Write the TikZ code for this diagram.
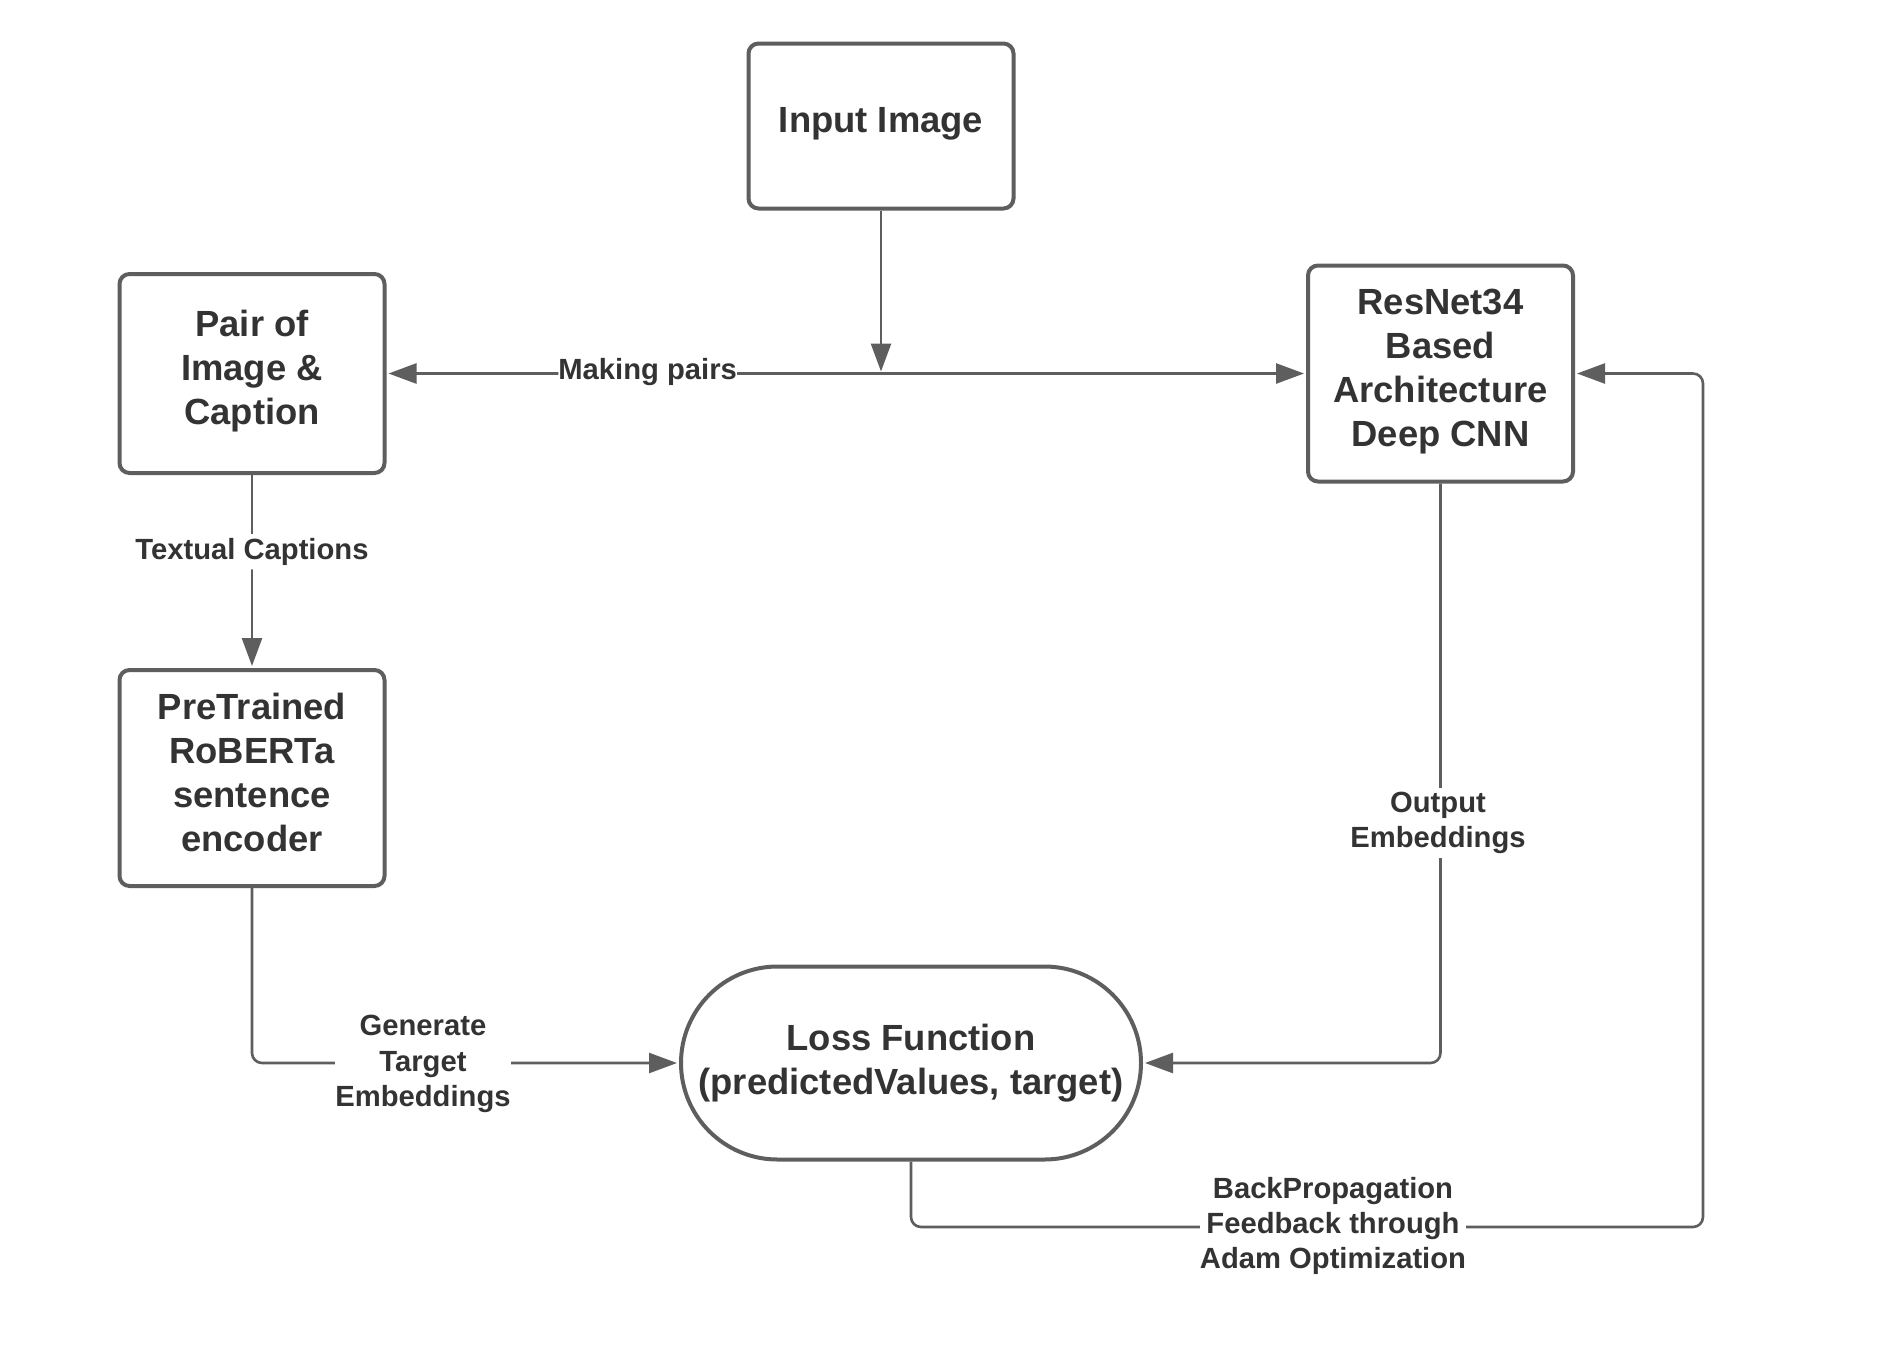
\documentclass[tikz,border=0pt]{standalone}
\usepackage{fontspec}
\setmainfont{Liberation Sans}
\usetikzlibrary{arrows.meta,shapes.misc}
\definecolor{edgegray}{HTML}{5E5E5E}
\definecolor{txtgray}{HTML}{333333}
\begin{document}
\begin{tikzpicture}[x=0.5pt,y=-0.5pt,
  boxstyle/.style={draw=edgegray,line width=2pt,rounded corners=5pt,fill=white,
    text=txtgray,align=center,font=\fontsize{18.2}{22}\selectfont\bfseries,inner sep=0pt,text depth=6pt},
  lossstyle/.style={rounded rectangle,draw=edgegray,line width=2pt,fill=white,
    text=txtgray,align=center,font=\fontsize{18.2}{22}\selectfont\bfseries,inner sep=0pt,
    minimum width=230pt,minimum height=96.5pt},
  lbl/.style={fill=white,text=txtgray,align=center,font=\fontsize{14.6}{17.6}\selectfont\bfseries,inner sep=1pt},
  conn/.style={draw=edgegray,line width=1.3pt,rounded corners=5pt},
  arr/.style={conn,-{Triangle[length=14pt,width=10pt]},shorten >=1pt},
  barr/.style={conn,{Triangle[length=14pt,width=10pt]}-{Triangle[length=14pt,width=10pt]},shorten >=1pt,shorten <=1pt}
]
\useasboundingbox (0,0) rectangle (1890,1360);
\fill[white] (0,0) rectangle (1890,1360);

\node[boxstyle,minimum width=132.5pt,minimum height=82.5pt] (inp) at (881,126) {Input Image};
\node[boxstyle,minimum width=132.5pt,minimum height=99.5pt] (pair) at (252,373.5) {Pair of\\Image \&\\Caption};
\node[boxstyle,minimum width=132.5pt,minimum height=108pt] (res) at (1440.5,373.5) {ResNet34\\Based\\Architecture\\Deep CNN};
\node[boxstyle,minimum width=132.5pt,minimum height=108pt] (pt) at (252,778) {PreTrained\\RoBERTa\\sentence\\encoder};
\node[lossstyle] (loss) at (911,1063) {Loss Function\\(predictedValues, target)};

\coordinate (jn) at (inp.south |- pair.east);
\coordinate (fb) at (1703,1227);

% horizontal pairing line
\draw[barr] (pair.east) -- node[lbl,pos=0.284,inner sep=0pt,yshift=0.6pt] (lmk) {Making pairs} (res.west);
\draw[arr] (inp.south) -- (jn);

% pair -> pretrained
\draw[arr] (pair.south) -- node[lbl,pos=0.385,inner sep=2pt,yshift=-1.2pt] (ltc) {Textual Captions} (pt.north);

% pretrained -> loss
\draw[arr] (pt.south) |- (loss.west);
\node[lbl,inner sep=0pt] (lgt) at (423,1064) {Generate\\Target\\Embeddings};

% resnet -> loss
\draw[arr] (res.south) |- (loss.east);
\node[lbl,inner sep=2pt] (loe) at (1438,823) {Output\\Embeddings};

% feedback
\draw[arr] (loss.south) |- (fb) |- (res.east);
\node[lbl,inner sep=0pt] (lbp) at (1333,1226) {BackPropagation\\Feedback through\\Adam Optimization};
\end{tikzpicture}
\end{document}
